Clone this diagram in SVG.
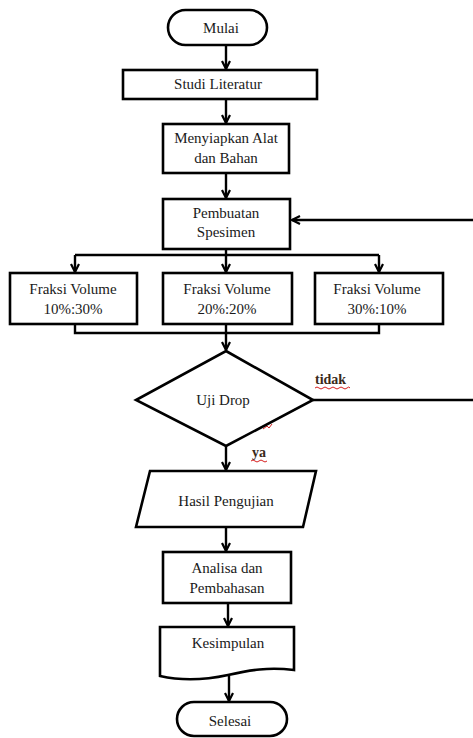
<svg xmlns="http://www.w3.org/2000/svg" width="473" height="738" viewBox="0 0 473 738">
<style>
.s{fill:#fff;stroke:#000;stroke-width:2.6}
.c{fill:none;stroke:#000;stroke-width:2.4}
.t{font-family:"Liberation Serif","Times New Roman",serif;font-size:15px;fill:#1a1a1a;text-anchor:middle}
.l{font-family:"Liberation Serif","Times New Roman",serif;font-size:14px;font-weight:bold;fill:#3a2a1a}
.w{fill:none;stroke:#d62020;stroke-width:1}
</style>
<defs>
<marker id="a" viewBox="0 0 10 10" refX="9" refY="5" markerWidth="10" markerHeight="10" markerUnits="userSpaceOnUse" orient="auto">
<path d="M1,1 L9,5 L1,9" fill="none" stroke="#000" stroke-width="2.2"/>
</marker>
</defs>
<rect width="473" height="738" fill="#fff"/>
<g id="connectors">
<line class="c" x1="226" y1="45" x2="226" y2="69" marker-end="url(#a)"/>
<line class="c" x1="226" y1="99" x2="226" y2="123" marker-end="url(#a)"/>
<line class="c" x1="226" y1="173" x2="226" y2="198" marker-end="url(#a)"/>
<line class="c" x1="473" y1="220" x2="292" y2="220" marker-end="url(#a)"/>
<polyline class="c" points="226,249 226,255"/>
<line class="c" x1="75" y1="255" x2="379" y2="255"/>
<line class="c" x1="75" y1="255" x2="75" y2="272" marker-end="url(#a)"/>
<line class="c" x1="226" y1="255" x2="226" y2="272" marker-end="url(#a)"/>
<line class="c" x1="379" y1="255" x2="379" y2="272" marker-end="url(#a)"/>
<polyline class="c" points="75,324 75,333 379,333 379,324"/>
<line class="c" x1="226" y1="324" x2="226" y2="333"/>
<line class="c" x1="226" y1="333" x2="226" y2="350" marker-end="url(#a)"/>
<line class="c" x1="313" y1="400" x2="473" y2="400"/>
<line class="c" x1="226" y1="446" x2="226" y2="470" marker-end="url(#a)"/>
<line class="c" x1="226" y1="527" x2="226" y2="551" marker-end="url(#a)"/>
<line class="c" x1="228" y1="603" x2="228" y2="626" marker-end="url(#a)"/>
<line class="c" x1="229" y1="676" x2="229" y2="701" marker-end="url(#a)"/>
<text class="l" x="315" y="384">tidak</text>
<path class="w" d="M315,388 q2,-2 4,0 t4,0 t4,0 t4,0 t4,0 t4,0 t4,0 t4,0 t3,0"/>
<text class="l" x="252" y="457">ya</text>
<path class="w" d="M251,461 q2,-2 4,0 t4,0 t4,0 t4,0"/>
<path class="w" d="M263,429 l4,-3 l2,2 l3,-4"/>
</g>
<g id="mulai">
<rect class="s" x="168" y="10" width="99" height="35" rx="17.5"/>
<text class="t" x="221" y="33">Mulai</text>
</g>
<g id="studi">
<rect class="s" x="123" y="70" width="194" height="29"/>
<text class="t" x="218" y="89">Studi Literatur</text>
</g>
<g id="menyiapkan">
<rect class="s" x="163" y="124" width="126" height="49"/>
<text class="t" x="226" y="143">Menyiapkan Alat</text>
<text class="t" x="226" y="163">dan Bahan</text>
</g>
<g id="pembuatan">
<rect class="s" x="163" y="199" width="127" height="50"/>
<text class="t" x="226" y="218">Pembuatan</text>
<text class="t" x="226" y="237">Spesimen</text>
</g>
<g id="fraksi1">
<rect class="s" x="10" y="273" width="127" height="51"/>
<text class="t" x="73" y="294">Fraksi Volume</text>
<text class="t" x="73" y="314">10%:30%</text>
</g>
<g id="fraksi2">
<rect class="s" x="163" y="273" width="129" height="51"/>
<text class="t" x="227" y="294">Fraksi Volume</text>
<text class="t" x="227" y="314">20%:20%</text>
</g>
<g id="fraksi3">
<rect class="s" x="315" y="273" width="128" height="51"/>
<text class="t" x="377" y="294">Fraksi Volume</text>
<text class="t" x="377" y="314">30%:10%</text>
</g>
<g id="uji">
<polygon class="s" points="226,351 313,400 226,446 136,400"/>
<text class="t" x="223" y="405">Uji Drop</text>
</g>
<g id="hasil">
<polygon class="s" points="150,471 316,471 303,527 136,527"/>
<text class="t" x="226" y="506">Hasil Pengujian</text>
</g>
<g id="analisa">
<rect class="s" x="163" y="552" width="128" height="51"/>
<text class="t" x="227" y="573">Analisa dan</text>
<text class="t" x="227" y="593">Pembahasan</text>
</g>
<g id="kesimpulan">
<path class="s" d="M160,627 H294 V670 C268,667 250,670 228,675 C205,680 182,681 160,676 Z"/>
<text class="t" x="228" y="648">Kesimpulan</text>
</g>
<g id="selesai">
<rect class="s" x="177" y="702" width="110" height="34" rx="17"/>
<text class="t" x="230" y="726">Selesai</text>
</g>
</svg>
